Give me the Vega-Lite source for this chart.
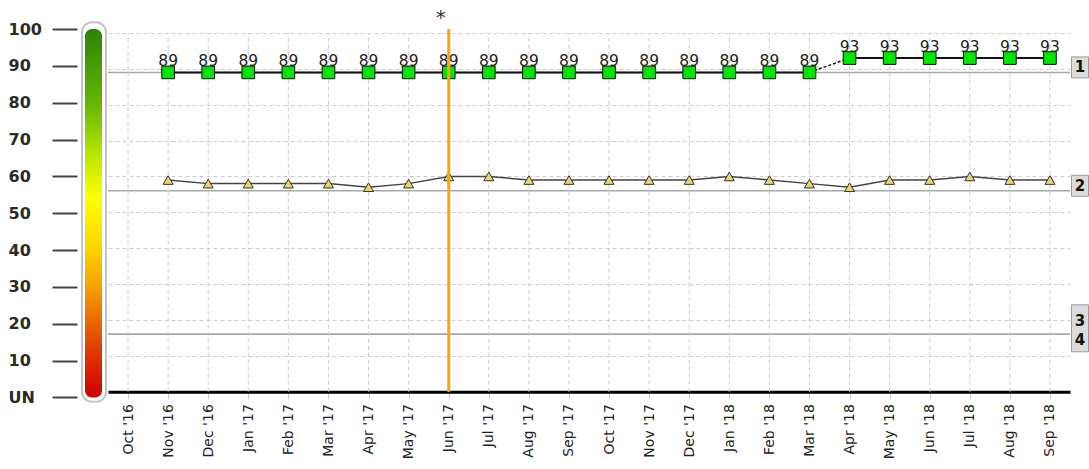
{
  "$schema": "https://vega.github.io/schema/vega-lite/v6.json",
  "background": "white",
  "padding": {"left": 8, "top": 7, "right": 0, "bottom": 3},
  "bounds": "flush",
  "spacing": 2,
  "config": {"view": {"stroke": null}, "text": {"font": "DejaVu Sans"}},
  "resolve": {"scale": {"x": "independent", "y": "independent"}},
  "datasets": {
    "monthly": [
      {"month": "Oct '16", "s1": null, "s2": null},
      {"month": "Nov '16", "s1": 89, "s2": 59},
      {"month": "Dec '16", "s1": 89, "s2": 58},
      {"month": "Jan '17", "s1": 89, "s2": 58},
      {"month": "Feb '17", "s1": 89, "s2": 58},
      {"month": "Mar '17", "s1": 89, "s2": 58},
      {"month": "Apr '17", "s1": 89, "s2": 57},
      {"month": "May '17", "s1": 89, "s2": 58},
      {"month": "Jun '17", "s1": 89, "s2": 60, "event": "*"},
      {"month": "Jul '17", "s1": 89, "s2": 60},
      {"month": "Aug '17", "s1": 89, "s2": 59},
      {"month": "Sep '17", "s1": 89, "s2": 59},
      {"month": "Oct '17", "s1": 89, "s2": 59},
      {"month": "Nov '17", "s1": 89, "s2": 59},
      {"month": "Dec '17", "s1": 89, "s2": 59},
      {"month": "Jan '18", "s1": 89, "s2": 60},
      {"month": "Feb '18", "s1": 89, "s2": 59},
      {"month": "Mar '18", "s1": 89, "s2": 58},
      {"month": "Apr '18", "s1": 93, "s2": 57},
      {"month": "May '18", "s1": 93, "s2": 59},
      {"month": "Jun '18", "s1": 93, "s2": 59},
      {"month": "Jul '18", "s1": 93, "s2": 60},
      {"month": "Aug '18", "s1": 93, "s2": 59},
      {"month": "Sep '18", "s1": 93, "s2": 59}
    ],
    "refs": [
      {"ref": "1", "value": 89},
      {"ref": "2", "value": 56},
      {"ref": "3", "value": 16},
      {"ref": "4", "value": 16}
    ],
    "colorbar": [{"low": 0, "high": 100}]
  },
  "hconcat": [
    {
      "width": 24,
      "height": 368.4,
      "data": {"name": "colorbar"},
      "layer": [
        {
          "mark": {"type": "rect", "fill": "white", "stroke": "#c4c4c4", "strokeWidth": 2, "cornerRadius": 10},
          "encoding": {
            "x": {"datum": 0, "type": "quantitative", "scale": {"domain": [0, 1], "nice": false}, "axis": null},
            "x2": {"datum": 1},
            "y": {
              "datum": -1.2, "type": "quantitative", "title": null,
              "scale": {"domain": [0, 100], "nice": false},
              "axis": {
                "orient": "left", "offset": 5, "tickSize": 25, "tickWidth": 2, "tickColor": "#444",
                "domain": false, "grid": false, "labelAlign": "left", "labelPadding": 44,
                "labelOverlap": false, "labelBound": false, "tickCount": 11,
                "labelFont": "DejaVu Sans", "labelFontSize": 16, "labelFontWeight": "bold", "labelColor": "#2a2a2a",
                "values": [0, 10, 20, 30, 40, 50, 60, 70, 80, 90, 100],
                "labelExpr": "datum.value == 0 ? 'UN' : datum.label",
                "title": null
              }
            },
            "y2": {"datum": 101.8}
          }
        },
        {
          "mark": {
            "type": "rect", "cornerRadius": 7,
            "fill": {
              "gradient": "linear", "x1": 0, "y1": 0, "x2": 0, "y2": 1,
              "stops": [
                {"offset": 0, "color": "#2b8506"},
                {"offset": 0.2, "color": "#62b500"},
                {"offset": 0.33, "color": "#b2e400"},
                {"offset": 0.46, "color": "#ffff00"},
                {"offset": 0.6, "color": "#ffd200"},
                {"offset": 0.7, "color": "#f5a000"},
                {"offset": 0.8, "color": "#e86400"},
                {"offset": 0.9, "color": "#dc2c00"},
                {"offset": 1, "color": "#cc0000"}
              ]
            }
          },
          "encoding": {
            "x": {"datum": 0.125, "type": "quantitative", "scale": {"domain": [0, 1], "nice": false}, "axis": null},
            "x2": {"datum": 0.833},
            "y": {
              "field": "low", "type": "quantitative", "title": null,
              "scale": {"domain": [0, 100], "nice": false},
              "axis": {
                "orient": "left", "offset": 5, "tickSize": 25, "tickWidth": 2, "tickColor": "#444",
                "domain": false, "grid": false, "labelAlign": "left", "labelPadding": 44,
                "labelOverlap": false, "labelBound": false, "tickCount": 11,
                "labelFont": "DejaVu Sans", "labelFontSize": 16, "labelFontWeight": "bold", "labelColor": "#2a2a2a",
                "values": [0, 10, 20, 30, 40, 50, 60, 70, 80, 90, 100],
                "labelExpr": "datum.value == 0 ? 'UN' : datum.label",
                "title": null
              }
            },
            "y2": {"field": "high"}
          }
        }
      ]
    },
    {
      "width": 962,
      "height": 362.7,
      "layer": [
        {
          "data": {"name": "refs"},
          "mark": {"type": "rule", "color": "#a8a8a8", "strokeWidth": 1.5},
          "encoding": {
            "y": {
              "field": "value", "type": "quantitative", "title": null,
              "scale": {"domain": [0, 101.1], "nice": false},
              "axis": {
                "orient": "left", "labels": false, "ticks": false, "domain": false, "grid": true,
                "gridColor": "#cccccc", "gridDash": [4, 3], "gridWidth": 1,
                "values": [10, 20, 30, 40, 50, 60, 70, 80, 90, 100], "title": null
              }
            }
          }
        },
        {
          "data": {"name": "monthly"},
          "encoding": {
            "x": {
              "field": "month", "type": "ordinal", "title": null,
              "sort": ["Oct '16", "Nov '16", "Dec '16", "Jan '17", "Feb '17", "Mar '17", "Apr '17", "May '17", "Jun '17", "Jul '17", "Aug '17", "Sep '17", "Oct '17", "Nov '17", "Dec '17", "Jan '18", "Feb '18", "Mar '18", "Apr '18", "May '18", "Jun '18", "Jul '18", "Aug '18", "Sep '18"],
              "scale": {
                "type": "point", "padding": 0.5,
                "domain": ["Oct '16", "Nov '16", "Dec '16", "Jan '17", "Feb '17", "Mar '17", "Apr '17", "May '17", "Jun '17", "Jul '17", "Aug '17", "Sep '17", "Oct '17", "Nov '17", "Dec '17", "Jan '18", "Feb '18", "Mar '18", "Apr '18", "May '18", "Jun '18", "Jul '18", "Aug '18", "Sep '18"]
              },
              "axis": {
                "title": null, "labelAngle": 270, "labelFont": "DejaVu Sans", "labelFontSize": 14,
                "labelColor": "#222", "labelPadding": 5, "tickSize": 7, "tickColor": "#c8c8c8",
                "domainColor": "#000000", "domainWidth": 3, "grid": false
              }
            }
          },
          "layer": [
            {
              "mark": {"type": "rule", "color": "#cccccc", "strokeDash": [4, 3], "strokeWidth": 1},
              "encoding": {
                "y": {"datum": 0, "type": "quantitative", "title": null, "scale": {"domain": [0, 101.1], "nice": false}},
                "y2": {"datum": 100}
              }
            },
            {
              "mark": {"type": "line", "color": "#444444", "strokeWidth": 1.5},
              "encoding": {
                "y": {"field": "s2", "type": "quantitative", "title": null, "scale": {"domain": [0, 101.1], "nice": false}}
              }
            },
            {
              "mark": {"type": "point", "shape": "triangle-up", "filled": true, "fill": "#ead56a", "stroke": "#333333", "strokeWidth": 1, "size": 100, "opacity": 1},
              "encoding": {
                "y": {"field": "s2", "type": "quantitative", "title": null, "scale": {"domain": [0, 101.1], "nice": false}}
              }
            },
            {
              "mark": {"type": "line", "color": "#111111", "strokeWidth": 2},
              "encoding": {
                "y": {"field": "s1", "type": "quantitative", "title": null, "scale": {"domain": [0, 101.1], "nice": false}},
                "detail": {"field": "s1", "type": "quantitative"}
              }
            },
            {
              "transform": [{"filter": {"field": "month", "oneOf": ["Mar '18", "Apr '18"]}}],
              "mark": {"type": "line", "color": "#111111", "strokeWidth": 1.5, "strokeDash": [3, 2]},
              "encoding": {
                "y": {"field": "s1", "type": "quantitative", "title": null, "scale": {"domain": [0, 101.1], "nice": false}}
              }
            },
            {
              "mark": {"type": "point", "shape": "square", "filled": true, "fill": "#00e600", "stroke": "#111111", "strokeWidth": 1, "size": 160, "opacity": 1},
              "encoding": {
                "y": {"field": "s1", "type": "quantitative", "title": null, "scale": {"domain": [0, 101.1], "nice": false}}
              }
            },
            {
              "mark": {"type": "text", "font": "DejaVu Sans", "fontSize": 15.5, "color": "#222222", "baseline": "alphabetic", "align": "center", "dy": -6.5},
              "encoding": {
                "y": {"field": "s1", "type": "quantitative", "title": null, "scale": {"domain": [0, 101.1], "nice": false}},
                "text": {"field": "s1", "type": "quantitative"}
              }
            },
            {
              "transform": [{"filter": "datum.event"}],
              "mark": {"type": "rule", "color": "#ffa500", "strokeWidth": 3}
            },
            {
              "transform": [{"filter": "datum.event"}],
              "mark": {"type": "text", "font": "DejaVu Sans", "fontSize": 20, "color": "#333333", "baseline": "middle", "align": "center", "dx": -8},
              "encoding": {
                "y": {"datum": 104.3, "type": "quantitative", "title": null, "scale": {"domain": [0, 101.1], "nice": false}},
                "text": {"field": "event", "type": "nominal"}
              }
            }
          ]
        }
      ]
    },
    {
      "width": 16,
      "height": 362.7,
      "data": {"name": "refs"},
      "layer": [
        {
          "transform": [{"filter": "datum.ref == '1' || datum.ref == '2'"}],
          "mark": {"type": "point", "shape": "M-0.81,-1H0.81V1H-0.81Z", "size": 441, "filled": true, "fill": "#dcdcdc", "stroke": "#9a9a9a", "strokeWidth": 1, "opacity": 1, "yOffset": -5},
          "encoding": {
            "y": {"field": "value", "type": "quantitative", "title": null, "scale": {"domain": [0, 101.1], "nice": false}, "axis": null}
          }
        },
        {
          "transform": [{"filter": "datum.ref == '3'"}],
          "mark": {"type": "point", "shape": "M-0.362,-1H0.362V1H-0.362Z", "size": 2209, "filled": true, "fill": "#dcdcdc", "stroke": "#9a9a9a", "strokeWidth": 1, "opacity": 1, "yOffset": -6},
          "encoding": {
            "y": {"field": "value", "type": "quantitative", "title": null, "scale": {"domain": [0, 101.1], "nice": false}, "axis": null}
          }
        },
        {
          "transform": [{"filter": "datum.ref == '1' || datum.ref == '2'"}],
          "mark": {"type": "text", "font": "DejaVu Sans", "fontSize": 15, "fontWeight": "bold", "color": "#111111", "baseline": "middle", "align": "center", "yOffset": -5},
          "encoding": {
            "y": {"field": "value", "type": "quantitative", "title": null, "scale": {"domain": [0, 101.1], "nice": false}, "axis": null},
            "text": {"field": "ref", "type": "nominal"}
          }
        },
        {
          "transform": [{"filter": "datum.ref == '3'"}],
          "mark": {"type": "text", "font": "DejaVu Sans", "fontSize": 15, "fontWeight": "bold", "color": "#111111", "baseline": "middle", "align": "center", "yOffset": -13},
          "encoding": {
            "y": {"field": "value", "type": "quantitative", "title": null, "scale": {"domain": [0, 101.1], "nice": false}, "axis": null},
            "text": {"field": "ref", "type": "nominal"}
          }
        },
        {
          "transform": [{"filter": "datum.ref == '4'"}],
          "mark": {"type": "text", "font": "DejaVu Sans", "fontSize": 15, "fontWeight": "bold", "color": "#111111", "baseline": "middle", "align": "center", "yOffset": 6},
          "encoding": {
            "y": {"field": "value", "type": "quantitative", "title": null, "scale": {"domain": [0, 101.1], "nice": false}, "axis": null},
            "text": {"field": "ref", "type": "nominal"}
          }
        }
      ]
    }
  ]
}
